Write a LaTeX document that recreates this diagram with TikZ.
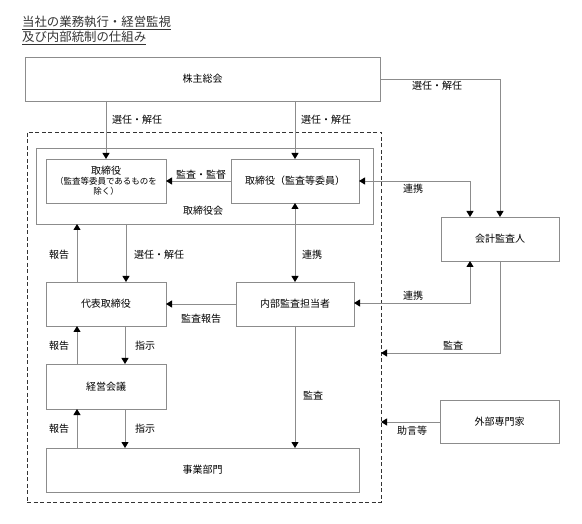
\documentclass[tikz,border=0pt]{standalone}
\usepackage{fontspec}
\setmainfont{Noto Sans CJK JP}
\usetikzlibrary{arrows.meta}
\definecolor{boxgray}{HTML}{8C8C8C}
\definecolor{linegray}{HTML}{8C8C8C}
\definecolor{titlegray}{HTML}{333333}
\begin{document}
\begin{tikzpicture}[x=1pt,y=-1pt,
  box/.style={draw=boxgray,line width=0.9pt,inner sep=0pt,outer sep=0pt,font=\fontsize{10}{12}\selectfont,align=center},
  lbl/.style={inner sep=0pt,font=\fontsize{10}{12}\selectfont},
  arr/.style={draw=linegray,line width=0.9pt,-{Triangle[length=6pt,width=7pt,color=black]}},
  darr/.style={draw=linegray,line width=0.9pt,{Triangle[length=6pt,width=7pt,color=black]}-{Triangle[length=6pt,width=7pt,color=black]}},
]
\useasboundingbox (0,0) rectangle (582,524);

% title
\node[anchor=west,inner sep=0pt,text=titlegray,font=\fontsize{12.4}{14}\selectfont] (t1) at (22,23) {\underline{当社の業務執行・経営監視}};
\node[anchor=west,inner sep=0pt,text=titlegray,font=\fontsize{12.4}{14}\selectfont] (t2) at (22,38) {\underline{及び内部統制の仕組み}};

% boxes
\node[box,minimum width=355pt,minimum height=44pt] (soukai) at (202.5,79) {株主総会};
\node[draw=black!80,line width=0.9pt,dash pattern=on 4pt off 2.5pt,inner sep=0pt,outer sep=0pt,minimum width=354pt,minimum height=370pt] (grp) at (204,317) {};
\node[box,minimum width=337pt,minimum height=76pt] (torikai) at (204.5,186) {};
\node[lbl] (torikailbl) at (203,211) {取締役会};
\node[box,minimum width=120pt,minimum height=44pt] (dir1) at (106,181) {取締役\\[-2pt]{\fontsize{8.5}{10}\selectfont （監査等委員であるものを}\\[-2pt]{\fontsize{8.5}{10}\selectfont 除く）}};
\node[box,minimum width=128pt,minimum height=44pt] (dir2) at (295,181) {取締役（監査等委員）};
\node[box,minimum width=118pt,minimum height=44pt] (kaikei) at (500,239) {会計監査人};
\node[box,minimum width=118pt,minimum height=44pt] (naibu) at (295,304) {内部監査担当者};
\node[box,minimum width=120pt,minimum height=44pt] (daihyo) at (106,304) {代表取締役};
\node[box,minimum width=120pt,minimum height=45pt] (keiei) at (106,386.5) {経営会議};
\node[box,minimum width=313pt,minimum height=44pt] (jigyo) at (202.5,470) {事業部門};
\node[box,minimum width=119pt,minimum height=43pt] (gaibu) at (499.5,421.5) {外部専門家};

% coordinates
\coordinate (c1) at (500,79);
\coordinate (c2) at (470,181);
\coordinate (c3) at (470,303);
\coordinate (c4) at (500,353);
\coordinate (c5) at (381,353);
\coordinate (c6) at (381,422);

% connectors
\draw[arr] (soukai.south -| dir1.north) -- (dir1.north);
\node[lbl,anchor=west] (l1) at (112,120) {選任・解任};
\draw[arr] (soukai.south -| dir2.north) -- (dir2.north);
\node[lbl,anchor=west] (l2) at (301,120) {選任・解任};
\draw[arr] (soukai.east |- c1) -- (c1) -- (kaikei.north -| c1);
\node[lbl] (l3) at (437,86) {選任・解任};

\draw[arr] (dir2.west) -- (dir1.east);
\node[lbl,anchor=south] (l4) at (201,180) {監査・監督};

\draw[darr] (dir2.east) -- (c2) -- (kaikei.north -| c2);
\node[lbl] (l5) at (413,189) {連携};

\draw[darr] (dir2.south) -- (naibu.north);
\node[lbl,anchor=west] (l6) at (302,255) {連携};

\draw[darr] (kaikei.south -| c3) -- (c3) -- (naibu.east |- c3);
\node[lbl] (l7) at (413,296) {連携};

\draw[arr] (kaikei.south -| c4) -- (c4) -- (c5);
\node[lbl] (l8) at (453,346) {監査};

\draw[arr] (gaibu.west |- c6) -- (c6);
\node[lbl] (l9) at (412,431) {助言等};

\draw[arr] (daihyo.north -| 77,0) -- (torikai.south -| 77,0);
\node[lbl] (l10) at (59,255) {報告};
\draw[arr] (torikai.south -| 126,0) -- (daihyo.north -| 126,0);
\node[lbl,anchor=west] (l11) at (134,255) {選任・解任};

\draw[arr] (naibu.west) -- (daihyo.east);
\node[lbl] (l12) at (201,319) {監査報告};

\draw[arr] (keiei.north -| 77,0) -- (daihyo.south -| 77,0);
\node[lbl] (l13) at (59,346) {報告};
\draw[arr] (daihyo.south -| 125,0) -- (keiei.north -| 125,0);
\node[lbl] (l14) at (145,346) {指示};

\draw[arr] (jigyo.north -| 77,0) -- (keiei.south -| 77,0);
\node[lbl] (l15) at (59,429) {報告};
\draw[arr] (keiei.south -| 125,0) -- (jigyo.north -| 125,0);
\node[lbl] (l16) at (145,429) {指示};

\draw[arr] (naibu.south) -- (jigyo.north -| naibu.south);
\node[lbl,anchor=west] (l17) at (303,396) {監査};
\end{tikzpicture}
\end{document}
